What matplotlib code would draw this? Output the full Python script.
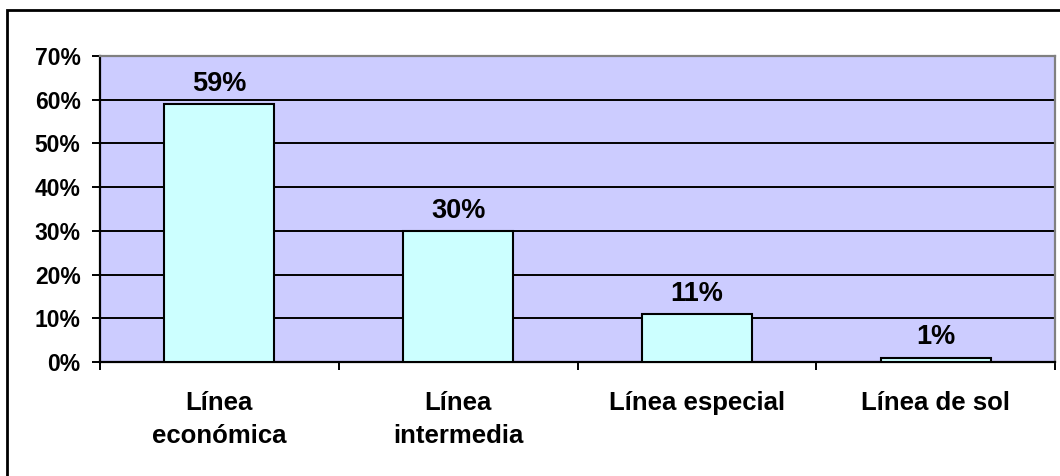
import matplotlib
matplotlib.use("Agg")
import matplotlib.pyplot as plt
from matplotlib.patches import Rectangle
from matplotlib.ticker import FuncFormatter, FixedLocator
import numpy as np

categories = ["Línea\neconómica", "Línea\nintermedia", "Línea especial", "Línea de sol"]
values = [0.59, 0.30, 0.11, 0.01]
value_labels = ["59%", "30%", "11%", "1%"]
y_ticks = [0.0, 0.1, 0.2, 0.3, 0.4, 0.5, 0.6, 0.7]

plt.rcParams["font.family"] = ["Liberation Sans", "DejaVu Sans"]
plt.rcParams["font.weight"] = "bold"

W, H = 1060, 476
fig = plt.figure(figsize=(W / 100, H / 100), dpi=100)
fig.patch.set_facecolor("white")

# plot area in pixel coordinates
left, right, top, bottom = 100, 1055, 56, 362
ax = fig.add_axes([left / W, 1 - bottom / H, (right - left) / W, (bottom - top) / H])
ax.set_facecolor("#CCCCFF")

x = np.arange(len(categories))
ax.bar(x, values, width=0.46, color="#CCFFFF", edgecolor="black", linewidth=1.5, zorder=3)

for xi, v, lab in zip(x, values, value_labels):
    ax.annotate(lab, (xi, v), xytext=(0, 9.5), textcoords="offset points",
                ha="center", va="baseline", fontsize=19.5, fontweight="bold", zorder=4)

ax.set_xlim(-0.5, len(categories) - 0.5)
ax.set_ylim(0, 0.7)
ax.yaxis.set_major_locator(FixedLocator(y_ticks))
ax.yaxis.set_major_formatter(FuncFormatter(lambda v, p: f"{v * 100:.0f}%"))
ax.grid(axis="y", color="black", linewidth=1.4, zorder=1)
ax.set_axisbelow(True)

# category labels between boundary ticks
ax.set_xticks(x)
ax.set_xticklabels(categories, fontsize=18.5, fontweight="bold", linespacing=1.45)
ax.tick_params(axis="x", length=0, pad=21)
ax.set_xticks(np.arange(len(categories) + 1) - 0.5, minor=True)
ax.tick_params(axis="x", which="minor", length=6, width=1.4, direction="out")
ax.tick_params(axis="y", length=6, width=1.4, direction="out", pad=8, labelsize=16.5)
for t in ax.get_yticklabels():
    t.set_fontweight("bold")

for side in ["left", "bottom"]:
    ax.spines[side].set_color("black")
    ax.spines[side].set_linewidth(1.6)
for side in ["top", "right"]:
    ax.spines[side].set_color("#808080")
    ax.spines[side].set_linewidth(1.6)

# chart-area frame
fig.add_artist(Rectangle((7 / W, -0.05), 1.1, 1.05 - 10 / H, transform=fig.transFigure,
                         fill=False, edgecolor="black", linewidth=2))

fig.savefig("out.png", dpi=100, facecolor="white")
